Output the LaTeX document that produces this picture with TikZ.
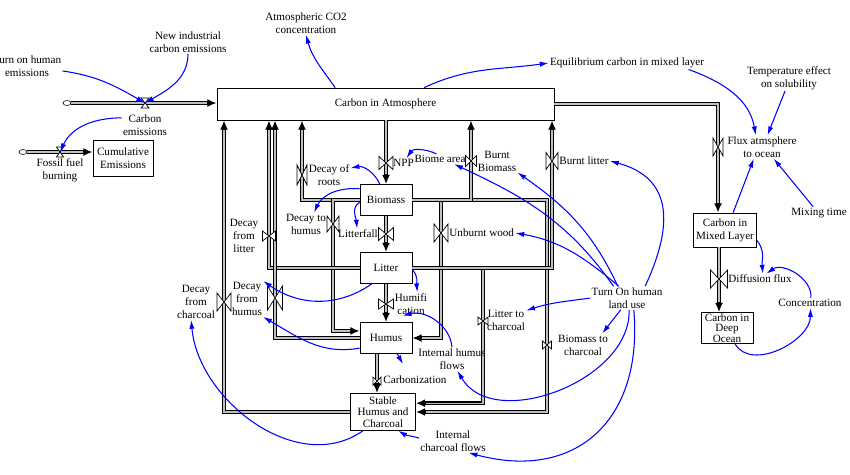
\documentclass[tikz,border=0pt]{standalone}
\usepackage{fontspec}
\setmainfont{Liberation Serif}
\usetikzlibrary{arrows.meta, shapes.geometric}

\newcommand\vvalve[3]{\draw[valve] (#1) +(-#2,-#3) -- +(#2,#3) -- +(#2,-#3) -- +(-#2,#3) -- cycle;}
\newcommand\hvalve[3]{\draw[valve] (#1) +(-#2,-#3) -- +(#2,-#3) -- +(-#2,#3) -- +(#2,#3) -- cycle;}

\begin{document}
\begin{tikzpicture}[
  x=0.03cm, y=0.03cm,
  every node/.style={font=\fontsize{9.5}{11}\selectfont, inner sep=1pt},
  stock/.style={draw, fill=white, line width=0.6pt, align=center,
    minimum width=1.56cm, minimum height=0.93cm},
  lbl/.style={align=center},
  src/.style={draw, ellipse, line width=0.5pt, inner sep=0pt,
    minimum width=0.24cm, minimum height=0.15cm},
  pipe/.style={line width=3pt, draw=black, -{Latex[length=8pt, width=7pt]},
    postaction={draw=gray!50, line width=1.2pt, -, shorten >=8.5pt}},
  valve/.style={draw, fill=white, line width=0.6pt},
  info/.style={draw=blue, line width=0.9pt, -{Latex[length=7.5pt, width=4.5pt]}}
]
\useasboundingbox (0,0) rectangle (850,-474);

\node[stock, minimum width=10.11cm, minimum height=0.96cm] (atm) at (385.5,-104) {Carbon in Atmosphere};
\node[stock, minimum width=1.8cm, minimum height=1.08cm] (cum) at (123,-158) {Cumulative\\Emissions};
\node[stock] (bio) at (386,-200) {Biomass};
\node[stock] (lit) at (386,-268) {Litter};
\node[stock] (hum) at (386,-338) {Humus};
\node[stock, minimum width=1.95cm, minimum height=1.11cm, font=\fontsize{9.5}{10}\selectfont] (stab) at (383,-412) {Stable\\Humus and\\Charcoal};
\node[stock, minimum width=1.89cm, minimum height=1.02cm] (mix) at (725,-230) {Carbon in\\Mixed Layer};
\node[stock, font=\fontsize{9.5}{8.8}\selectfont] (deep) at (727,-328) {Carbon in\\Deep\\Ocean};

\node[src] (cl1) at (67,-103) {};
\node[src] (cl2) at (23,-152) {};

\coordinate (vCE) at (145,-103);
\coordinate (vFF) at (60,-152);
\coordinate (vNPP) at (386,-163);
\coordinate (vDR) at (302,-175);
\coordinate (vDL) at (269,-236);
\coordinate (vDH) at (333,-224);
\coordinate (vLF) at (386,-234);
\coordinate (vUW) at (441,-233);
\coordinate (vBB) at (471,-161);
\coordinate (vBL) at (552,-161);
\coordinate (vHU) at (386,-304);
\coordinate (vDHU) at (275,-298);
\coordinate (vDC) at (224,-302);
\coordinate (vCZ) at (377,-381);
\coordinate (vLC) at (483,-321);
\coordinate (vBC) at (547,-345);
\coordinate (vFX) at (718,-147);
\coordinate (vDF) at (719,-279);
\coordinate (hcz) at (403,-364);

\draw[pipe] (cl1.east) -- (atm.west |- cl1);
\draw[pipe] (cl2.east) -- (cum.west |- cl2);
\draw[pipe] (vNPP |- atm.south) -- (bio.north);
\draw[pipe] (bio.south) -- (lit.north);
\draw[pipe] (lit.south) -- (hum.north);
\draw[pipe] (vCZ |- hum.south) -- (vCZ |- stab.north);
\draw[pipe] (bio.west) -| (vDR |- atm.south);
\draw[pipe] (bio.west) -| (vDH) |- (hum.165);
\draw[pipe] (lit.west) -| (vDL |- atm.south);
\draw[pipe] (hum.west) -| (vDHU |- atm.south);
\draw[pipe] (stab.west) -| (vDC |- atm.south);
\draw[pipe] (bio.east) -| (vBC) |- (stab.east);
\draw[pipe] (bio.east) -| (vUW) |- (hum.east);
\draw[pipe] (bio.east) -| (vBB |- atm.south);
\draw[pipe] (lit.east) -| (vLC) |- (stab.15);
\draw[pipe] (lit.east) -| (vBL |- atm.south);
\draw[pipe] (atm.east) -| (vFX |- mix.north);
\draw[pipe] (vDF |- mix.south) -- (vDF |- deep.north);

\hvalve{vCE}{4}{5}
\hvalve{vFF}{3.5}{5}
\vvalve{vNPP}{7}{6.5}
\vvalve{vDR}{5}{10}
\vvalve{vDL}{6.5}{5}
\vvalve{vDH}{6}{8}
\vvalve{vLF}{7.5}{6.5}
\vvalve{vUW}{7}{9}
\vvalve{vBB}{5.5}{5.5}
\vvalve{vBL}{6}{8.5}
\vvalve{vHU}{7.5}{5}
\vvalve{vDHU}{7.5}{12}
\vvalve{vDC}{7}{9}
\vvalve{vCZ}{4}{4}
\vvalve{vLC}{5}{4}
\vvalve{vBC}{4.5}{4}
\vvalve{vFX}{5}{9}
\vvalve{vDF}{8.5}{9}

\node[lbl] (turnEm) at (27,-66) {Turn on human\\emissions};
\node[lbl] (newInd) at (188,-42) {New industrial\\carbon emissions};
\node[lbl] (carbEm) at (145,-125) {Carbon\\emissions};
\node[lbl] (fossil) at (60,-170) {Fossil fuel\\burning};
\node[lbl] (atmCO2) at (306,-23) {Atmospheric CO2\\concentration};
\node[lbl] (equil) at (627,-63) {Equilibrium carbon in mixed layer};
\node[lbl] (temp) at (789,-78) {Temperature effect\\on solubility};
\node[lbl] (flux) at (762,-147) {Flux atmsphere\\to ocean};
\node[lbl] (mixing) at (819,-213) {Mixing time};
\node[lbl, anchor=west] (diff) at (727,-279) {Diffusion flux};
\node[lbl] (conc) at (810,-303) {Concentration};
\node[lbl] (decRoots) at (329,-175) {Decay of\\roots};
\node[lbl, anchor=west] (npp) at (392,-163) {NPP};
\node[lbl] (biome) at (440,-159) {Biome area};
\node[lbl] (burntBio) at (497,-161) {Burnt\\Biomass};
\node[lbl, anchor=west] (burntLit) at (558,-161) {Burnt litter};
\node[lbl] (decHum) at (306,-224) {Decay to\\humus};
\node[lbl] (litterfall) at (358,-234) {Litterfall};
\node[lbl, anchor=west] (unburnt) at (448,-233) {Unburnt wood};
\node[lbl] (decLit) at (244,-236) {Decay\\from\\litter};
\node[lbl] (humif) at (411,-304) {Humifi\\cation};
\node[lbl] (decFHum) at (247,-299) {Decay\\from\\humus};
\node[lbl] (decChar) at (196,-302) {Decay\\from\\charcoal};
\node[lbl] (intHum) at (452,-359) {Internal humus\\flows};
\node[lbl, anchor=west] (carbz) at (382,-380) {Carbonization};
\node[lbl] (l2c) at (506,-320) {Litter to\\charcoal};
\node[lbl] (b2c) at (583,-345) {Biomass to\\charcoal};
\node[lbl] (landUse) at (627,-298) {Turn On human\\land use};
\node[lbl] (intChar) at (453,-441) {Internal\\charcoal flows};

\draw[info] (turnEm.-8) to[out=-8, in=150] (vCE);
\draw[info] (newInd.south) to[out=-90, in=30] (vCE);
\draw[info] (carbEm.163) to[out=180, in=65] (vFF);
\draw[info] (atm.162) to[out=125, in=-75] (atmCO2.south);
\draw[info] (atm.23) to[out=25, in=188] (equil.west);
\draw[info] (equil.-6) to[out=-20, in=100] (flux.118);
\draw[info] (temp.-107) -- (flux.65);
\draw[info] (mix.65) -- (flux.-125);
\draw[info] (mixing.133) -- (flux.-45);
\draw[info] (mix.-18) to[out=-50, in=95] (diff.62);
\draw[info] (conc.80) to[out=85, in=35] (diff.40);
\draw[info] (deep.-63) to[out=-60, in=-90] (conc.-85);
\draw[info] (bio.111) to[out=115, in=10] (decRoots.18);
\draw[info] (biome.124) to[out=155, in=55] (npp.60);
\draw[info] (bio.157) to[out=175, in=65] (decHum.55);
\draw[info] (bio.185) to[out=-150, in=95] (litterfall.100);
\draw[info] (lit.-4) to[out=-45, in=95] (humif.62);
\draw[info] (lit.-132) to[out=-145, in=-35] (decFHum.north east);
\draw[info] (hum.-159) to[out=190, in=-30] (decFHum.south east);
\draw[info] (hum.-55) to[out=-60, in=120] (hcz);
\draw[info] (intHum.north) to[out=95, in=15] (humif.-125);
\draw[info] (stab.-137) to[out=-145, in=-85] (decChar.-105);
\draw[info] (intChar.175) to[out=165, in=-30] (stab.-51);
\draw[info] (landUse.west) to[out=-172, in=18] (l2c.25);
\draw[info] (landUse.-118) -- (b2c.31);
\draw[info] (landUse.-80) to[out=-88, in=-60] (intHum.-65);
\draw[info] (landUse.-60) to[out=-85, in=-15, looseness=1.3] (intChar.-37);
\draw[info] (landUse.125) to[out=140, in=-10] (unburnt.east);
\draw[info] (landUse.139) to[out=125, in=-25] (biome.-20);
\draw[info] (landUse.128) to[out=115, in=-35] (burntBio.south east);
\draw[info] (landUse.33) to[out=65, in=-15, looseness=1.3] (burntLit.east);
\end{tikzpicture}
\end{document}
